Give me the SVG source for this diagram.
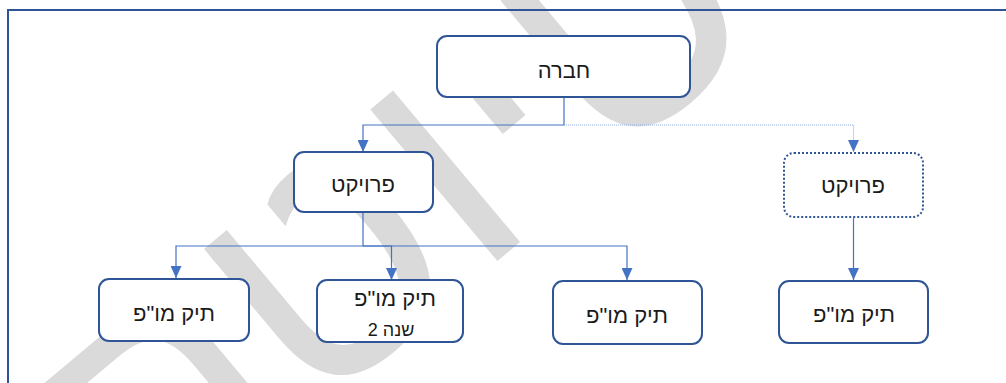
<svg xmlns="http://www.w3.org/2000/svg" width="1006" height="383" viewBox="0 0 1006 383">
<defs>
<style>
.box{fill:#ffffff;stroke:#2f5597;stroke-width:2}
.dot{fill:#ffffff;stroke:#2f5597;stroke-width:2;stroke-dasharray:2 2}
.lbl{font-family:"Liberation Sans",Arial,sans-serif;font-size:22px;fill:#1a1a1a;text-anchor:middle;direction:rtl}
.sub{font-size:18px}
.con{fill:none;stroke:#4472c4;stroke-width:1.2}
.con.dl{stroke:#8faadc;stroke-dasharray:1 1}
.wm{font-family:"Liberation Sans",Arial,sans-serif;font-size:330px;fill:#dadada;text-anchor:middle;direction:rtl}
</style>
<marker id="arr" markerWidth="12" markerHeight="11" refX="12" refY="5.5" orient="auto" markerUnits="userSpaceOnUse">
<path d="M0,0 L12,5.5 L0,11 z" fill="#4472c4"/>
</marker>
</defs>
<rect width="1006" height="383" fill="#ffffff"/>
<g id="watermark">
<text class="wm" transform="translate(385,200) rotate(-40)" x="0" y="119">טיוטה</text>
</g>
<g id="frame" fill="none" stroke="#2f5597" stroke-width="2">
<path d="M8,383 V10 H1006"/>
</g>
<g id="connectors">
<path class="con" d="M564,98 V125 H363 V152" marker-end="url(#arr)"/>
<path class="con dl" d="M564,125 H853.5 V152" marker-end="url(#arr)"/>
<path class="con" d="M363,213 V246 H176 V278" marker-end="url(#arr)"/>
<path class="con" d="M363,246 H391.5 V280" marker-end="url(#arr)"/>
<path class="con" d="M363,246 H627 V280" marker-end="url(#arr)"/>
<path class="con" d="M853.5,218 V280" marker-end="url(#arr)"/>
</g>
<g id="n-company">
<rect class="box" x="437" y="36" width="253" height="61" rx="10"/>
<text class="lbl" x="564" y="78">חברה</text>
</g>
<g id="n-project1">
<rect class="box" x="294" y="152" width="139" height="60" rx="10"/>
<text class="lbl" x="363" y="192">פרויקט</text>
</g>
<g id="n-project2">
<rect class="dot" x="784" y="153" width="139" height="64" rx="10"/>
<text class="lbl" x="853" y="193">פרויקט</text>
</g>
<g id="n-file1">
<rect class="box" x="99" y="279" width="150" height="62" rx="10"/>
<text class="lbl" x="174" y="321">תיק מו"פ</text>
</g>
<g id="n-file2">
<rect class="box" x="317" y="280" width="146" height="62" rx="10"/>
<text class="lbl" x="395" y="306">תיק מו"פ</text>
<text class="lbl sub" x="391" y="336">שנה 2</text>
</g>
<g id="n-file3">
<rect class="box" x="553" y="281" width="149" height="63" rx="10"/>
<text class="lbl" x="627" y="323">תיק מו"פ</text>
</g>
<g id="n-file4">
<rect class="box" x="779" y="281" width="149" height="62" rx="10"/>
<text class="lbl" x="854" y="322">תיק מו"פ</text>
</g>
</svg>
